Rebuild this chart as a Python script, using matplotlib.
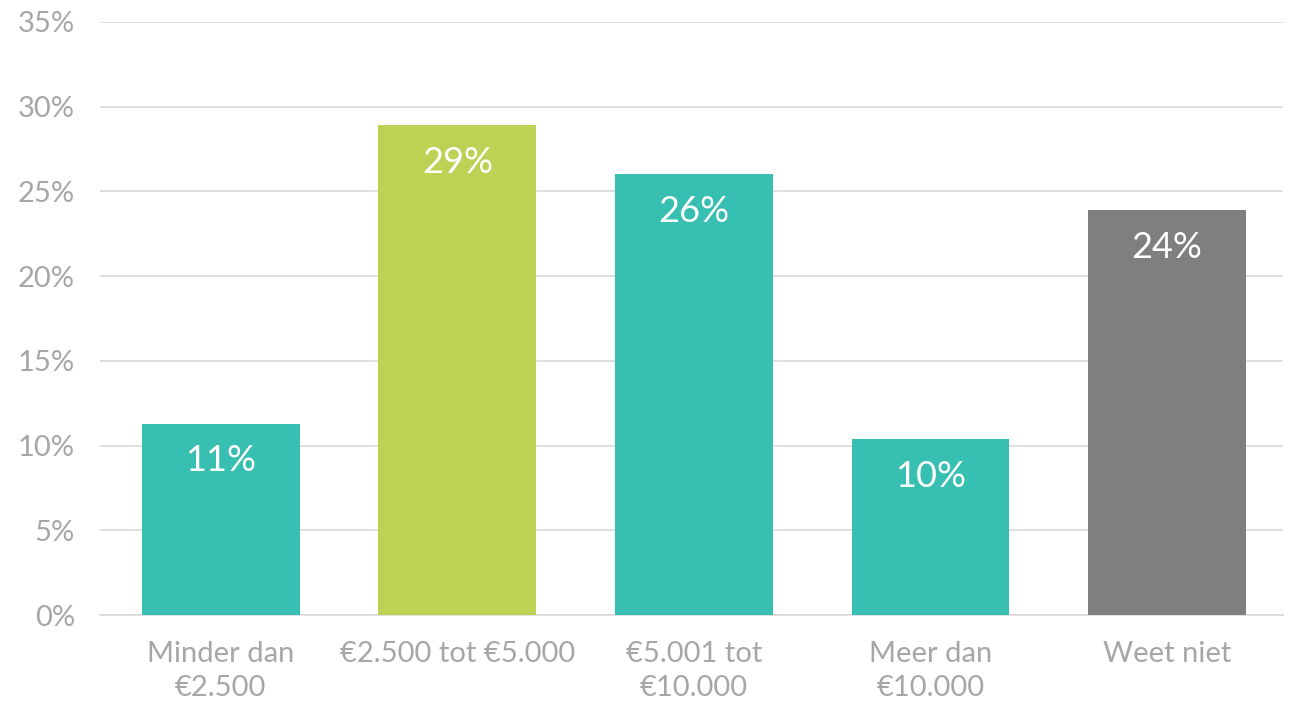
import matplotlib
matplotlib.use("Agg")
import matplotlib.pyplot as plt
from matplotlib.ticker import FuncFormatter

categories = ["Minder dan\n€2.500", "€2.500 tot €5.000", "€5.001 tot\n€10.000",
              "Meer dan\n€10.000", "Weet niet"]
values = [11.3, 28.9, 26.0, 10.4, 23.9]
labels = ["11%", "29%", "26%", "10%", "24%"]
colors = ["#37BFB2", "#BDD155", "#37BFB2", "#37BFB2", "#7F7F7F"]

plt.rcParams['font.family'] = ['Lato', 'DejaVu Sans']

fig = plt.figure(figsize=(12.94, 7.02), dpi=100)
ax = fig.add_axes([100 / 1294, 1 - 615 / 702, 1183 / 1294, 593 / 702])

x = range(len(categories))
bars = ax.bar(x, values, width=0.667, color=colors, zorder=3)

# value labels inside the top of each bar
for b, v, lab in zip(bars, values, labels):
    ax.text(b.get_x() + b.get_width() / 2, v - 2.2, lab, ha='center', va='center',
            color='white', fontsize=26, zorder=4)

ax.set_xlim(-0.51, 4.49)
ax.set_ylim(0, 35)
ax.set_yticks(range(0, 36, 5))
ax.yaxis.set_major_formatter(FuncFormatter(lambda v, p: f"{int(v)}%"))
ax.set_xticks(list(x))
ax.set_xticklabels(categories, linespacing=1.35)
ax.tick_params(axis='y', length=0, labelsize=21, labelcolor='#A6A6A6', pad=18)
ax.tick_params(axis='x', length=0, labelsize=21, labelcolor='#A6A6A6', pad=19)
ax.grid(axis='y', color='#D9D9D9', linewidth=1.2, zorder=0)
for s in ['top', 'right', 'left']:
    ax.spines[s].set_visible(False)
ax.spines['bottom'].set_color('#D9D9D9')
ax.spines['bottom'].set_linewidth(1.2)

fig.savefig("out.png", dpi=100)
